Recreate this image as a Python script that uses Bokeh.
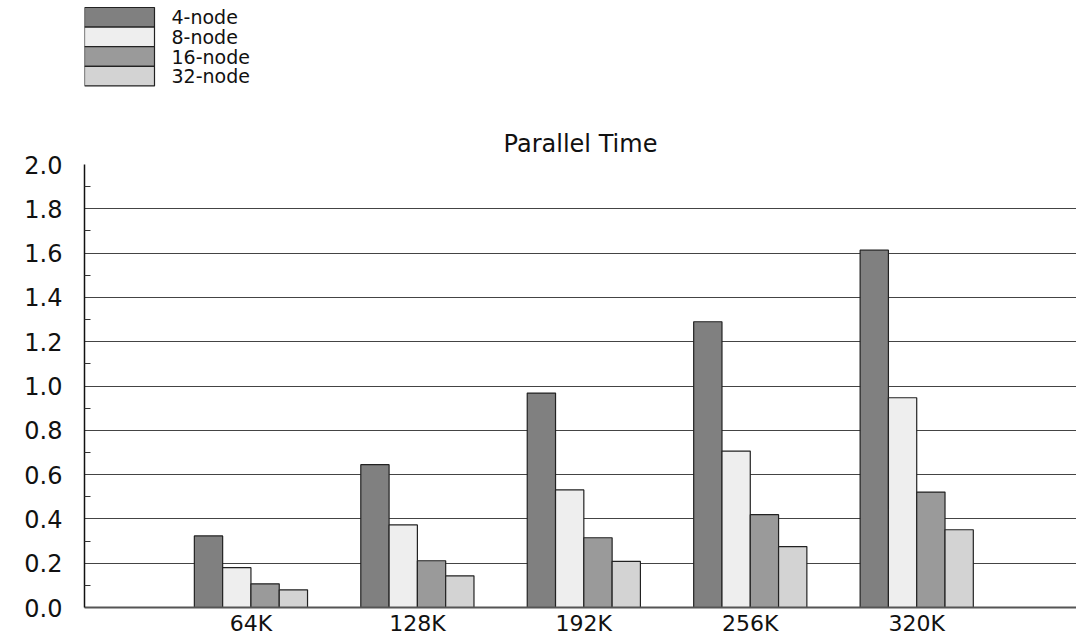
from bokeh.plotting import figure
from bokeh.layouts import column
from bokeh.models import ColumnDataSource, FixedTicker, Range1d
from bokeh.core.properties import value
from bokeh.embed import file_html
from bokeh.resources import INLINE

# ---- data ----
categories = ["64K", "128K", "192K", "256K", "320K"]
series_names = ["4-node", "8-node", "16-node", "32-node"]
node4 = [0.323, 0.645, 0.968, 1.290, 1.613]
node8 = [0.180, 0.373, 0.531, 0.706, 0.947]
node16 = [0.107, 0.211, 0.315, 0.419, 0.521]
node32 = [0.080, 0.143, 0.208, 0.275, 0.351]
y_ticks = [0.0, 0.2, 0.4, 0.6, 0.8, 1.0, 1.2, 1.4, 1.6, 1.8, 2.0]

series_values = [node4, node8, node16, node32]
colors = ["#808080", "#eeeeee", "#9a9a9a", "#d3d3d3"]
positions = list(range(1, len(categories) + 1))
bar_w = 0.17
offsets = [-1.5 * bar_w, -0.5 * bar_w, 0.5 * bar_w, 1.5 * bar_w]
outline = "#222222"

# ---------------- legend strip (top), in pixel-like units ----------------
LEFT = 84
lg = figure(width=1076, height=100, output_backend="svg", toolbar_location=None,
            x_range=Range1d(LEFT, 1076), y_range=Range1d(100, 0),
            min_border_left=LEFT, min_border_right=0, min_border_top=0,
            min_border_bottom=0, x_axis_type=None, y_axis_type=None)
lg.outline_line_color = None
lg.xgrid.visible = False
lg.ygrid.visible = False
row_h = 19.6
top0 = 7
idx = list(range(len(series_names)))
lsrc = ColumnDataSource(dict(
    top=[top0 + row_h * i for i in idx],
    bottom=[top0 + row_h * (i + 1) for i in idx],
    mid=[top0 + row_h * (i + 0.5) for i in idx],
    color=colors, name=series_names))
lg.quad(left=LEFT, right=LEFT + 70, top="top", bottom="bottom", source=lsrc,
        fill_color="color", line_color=outline, line_width=1.2)
lg.text(x=LEFT + 87, y="mid", text="name", source=lsrc,
        text_font=value("DejaVu Sans"), text_font_size="19px",
        text_baseline="middle", text_align="left", text_color="#111111")

# ---------------- main chart ----------------
p = figure(width=1076, height=539, output_backend="svg", toolbar_location=None,
           x_range=Range1d(0, 5.96), y_range=Range1d(0, 2.0),
           min_border_left=LEFT, min_border_right=0, min_border_top=64,
           min_border_bottom=32)
p.outline_line_color = None
p.background_fill_color = "white"
p.border_fill_color = "white"

p.title.text = "Parallel Time"
p.title.align = "center"
p.title.text_font = "DejaVu Sans"
p.title.text_font_size = "24px"
p.title.text_font_style = "normal"
p.title.text_color = "#111111"
p.title.standoff = 13

for name, vals, col, off in zip(series_names, series_values, colors, offsets):
    src = ColumnDataSource(dict(x=[pos + off for pos in positions], top=vals))
    p.vbar(x="x", top="top", width=bar_w, bottom=0, source=src,
           fill_color=col, line_color=outline, line_width=1.2)

# grid
p.xgrid.grid_line_color = None
p.ygrid.grid_line_color = "#444444"
p.ygrid.grid_line_width = 1.2
p.ygrid.ticker = FixedTicker(ticks=y_ticks)

# y axis
yax = p.yaxis[0]
yax.ticker = FixedTicker(ticks=y_ticks,
                         minor_ticks=[0.1, 0.3, 0.5, 0.7, 0.9, 1.1, 1.3, 1.5, 1.7, 1.9])
yax.major_label_overrides = {t: f"{t:.1f}" for t in y_ticks}
yax.major_label_text_font = "DejaVu Sans"
yax.major_label_text_font_size = "24px"
yax.major_label_text_color = "#111111"
yax.major_label_standoff = 22
yax.major_tick_out = 0
yax.major_tick_in = 0
yax.minor_tick_in = 6
yax.minor_tick_out = 0
yax.minor_tick_line_color = "#333333"
yax.axis_line_color = "#111111"
yax.axis_line_width = 1.5

# x axis
xax = p.xaxis[0]
xax.ticker = FixedTicker(ticks=positions)
xax.major_label_overrides = {pos: c for pos, c in zip(positions, categories)}
xax.major_label_text_font = "DejaVu Sans"
xax.major_label_text_font_size = "22px"
xax.major_label_text_color = "#111111"
xax.major_label_standoff = 3
xax.major_tick_out = 0
xax.major_tick_in = 0
xax.minor_tick_out = 0
xax.minor_tick_in = 0
xax.axis_line_color = "#555555"
xax.axis_line_width = 2

layout = column(lg, p, spacing=0)
open("out.html", "w").write(file_html(layout, INLINE))
